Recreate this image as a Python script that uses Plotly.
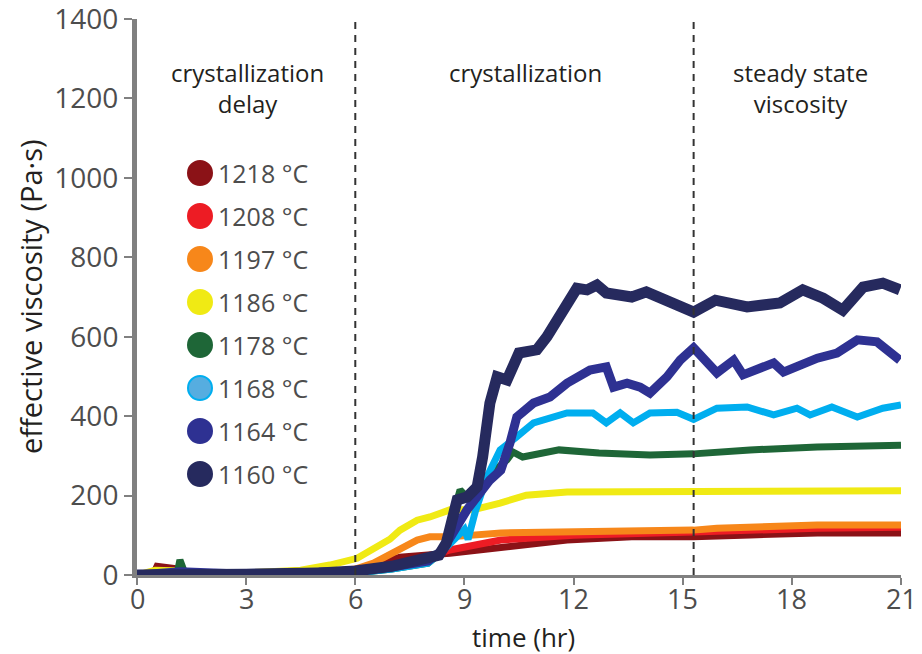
import plotly.graph_objects as go

# ---------------- data ----------------
labels = ["1218 °C", "1208 °C", "1197 °C", "1186 °C", "1178 °C", "1168 °C", "1164 °C", "1160 °C"]
colors = ["#8b1217", "#ed1c24", "#f7871a", "#f0ea14", "#1e6637", "#00aeef", "#2e3192", "#262a5e"]
legend_fill = ["#8b1217", "#ed1c24", "#f7871a", "#f0ea14", "#1e6637", "#56ade0", "#2e3192", "#262a5e"]
widths = [7, 7, 7, 7, 7, 7, 9, 11]

t_1218 = [0, 0.45, 0.55, 1.0, 1.15, 1.3, 3, 6, 6.5, 7.23, 8.6, 10.0, 11.82, 13.6, 15.3, 16.85, 18.7, 21.0]
v_1218 = [0, 2, 22, 20, 15, 2, 2, 12, 25, 45, 55, 70, 88, 96, 96, 101, 106, 106]

t_1208 = [0, 3, 6, 7, 8, 8.6, 10.0, 11.1, 12, 15.3, 18.7, 21.0]
v_1208 = [0, 2, 10, 25, 45, 63, 88, 96, 100, 108, 118, 120]

t_1197 = [0, 1.3, 3, 5, 6, 6.5, 7.3, 7.7, 8.05, 8.6, 10.0, 12.7, 15.3, 15.94, 18.7, 21.0]
v_1197 = [0, 0, 2, 5, 15, 30, 70, 88, 96, 96, 106, 108, 113, 118, 126, 126]

t_1186 = [0, 0.5, 1.2, 1.3, 3, 4.5, 5.3, 6.05, 6.95, 7.23, 7.7, 8.05, 8.6, 9.24, 9.98, 10.7, 11.82, 15.3, 21.0]
v_1186 = [0, 12, 10, 2, 5, 12, 25, 42, 90, 113, 138, 146, 164, 164, 181, 201, 209, 209, 212]

t_1178 = [0, 1.1, 1.18, 1.3, 3, 6, 7, 8, 8.4, 8.88, 9.07, 9.62, 10.17, 10.33, 10.6, 11.6, 12.7, 14.1, 15.3, 16.85, 18.7, 21.0]
v_1178 = [0, 2, 38, 8, 2, 5, 15, 30, 60, 214, 196, 247, 290, 310, 297, 315, 307, 302, 305, 315, 322, 327]

t_1168 = [0, 3, 6, 7, 8, 8.4, 8.8, 9.0, 9.1, 9.3, 9.62, 9.98, 10.44, 10.9, 11.82, 12.53, 12.9, 13.28, 13.64, 14.1, 14.84, 15.3, 15.94, 16.77, 17.5, 18.14, 18.5, 19.1, 19.8, 20.5, 21.0]
v_1168 = [0, 1, 5, 15, 30, 60, 100, 115, 90, 160, 247, 315, 348, 383, 408, 408, 383, 408, 383, 408, 410, 392, 420, 423, 403, 420, 403, 423, 398, 420, 428]

t_1164 = [0, 1.2, 3, 5, 6, 7, 8, 8.4, 9.07, 9.7, 10.0, 10.25, 10.44, 10.9, 11.35, 11.82, 12.45, 12.9, 13.1, 13.47, 13.83, 14.1, 14.57, 14.93, 15.2, 15.3, 15.94, 16.4, 16.66, 17.5, 17.77, 18.7, 19.24, 19.8, 20.34, 20.97]
v_1164 = [0, 8, 2, 5, 10, 20, 35, 63, 164, 239, 264, 332, 398, 433, 448, 483, 516, 524, 473, 483, 473, 458, 499, 541, 567, 572, 509, 541, 504, 534, 511, 546, 559, 592, 587, 541]

t_1160 = [0, 1.2, 3, 5, 6, 7, 7.8, 8.3, 8.5, 8.8, 9.07, 9.35, 9.5, 9.7, 9.9, 10.17, 10.5, 10.99, 11.27, 11.82, 12.09, 12.37, 12.64, 12.9, 13.6, 14.0, 14.57, 15.0, 15.3, 15.9, 16.77, 17.67, 18.3, 18.86, 19.4, 19.96, 20.5, 20.97]
v_1160 = [0, 3, 2, 5, 10, 22, 35, 50, 80, 189, 196, 222, 297, 433, 499, 491, 559, 567, 600, 685, 722, 718, 730, 710, 700, 713, 692, 672, 662, 692, 675, 685, 718, 697, 667, 725, 735, 718]

times = [t_1218, t_1208, t_1197, t_1186, t_1178, t_1168, t_1164, t_1160]
values = [v_1218, v_1208, v_1197, v_1186, v_1178, v_1168, v_1164, v_1160]

phase_bounds = [6, 15.3]
phase_labels = ["crystallization<br>delay", "crystallization", "steady state<br>viscosity"]
phase_centers = [0.145, 0.508, 0.868]

x_ticks = [0, 3, 6, 9, 12, 15, 18, 21]
y_ticks = [0, 200, 400, 600, 800, 1000, 1200, 1400]

FONT = "Open Sans, Noto Sans, sans-serif"

PLOT_H = 654 - 19 - 79

fig = go.Figure()
for t, v, c, w, name in zip(times, values, colors, widths, labels):
    fig.add_trace(go.Scatter(x=t, y=v, mode="lines", name=name,
                             line=dict(color=c, width=w), showlegend=False,
                             hoverinfo="skip"))

shapes = []
for xb in phase_bounds:
    shapes.append(dict(type="line", xref="x", yref="paper", x0=xb, x1=xb, y0=0, y1=1,
                       line=dict(color="#333333", width=2, dash="7px,6px")))

annotations = []
for cx, txt in zip(phase_centers, phase_labels):
    annotations.append(dict(x=cx, y=(575 - 54) / PLOT_H, xref="paper", yref="paper",
                            text=txt, showarrow=False, xanchor="center", yanchor="top",
                            font=dict(family=FONT, size=24, color="#231f20")))

# legend built from shapes + text
lx = (200 - 137) / 764
ly0 = (575 - 173) / PLOT_H
dy = 43 / PLOT_H
for i, (lab, fc, ec) in enumerate(zip(labels, legend_fill, colors)):
    yy = ly0 - i * dy
    shapes.append(dict(type="circle", xref="paper", yref="paper",
                       xsizemode="pixel", ysizemode="pixel",
                       xanchor=lx, yanchor=yy, x0=-12, x1=12, y0=-12, y1=12,
                       fillcolor=fc, line=dict(color=ec, width=2)))
    annotations.append(dict(x=lx, y=yy, xref="paper", yref="paper", text=lab,
                            xshift=16, showarrow=False, xanchor="left", yanchor="middle",
                            font=dict(family=FONT, size=25, color="#4d4d4d")))

# x tick labels placed below the axis
for xt in x_ticks:
    annotations.append(dict(x=xt, y=-(598 - 575) / PLOT_H, xref="x", yref="paper",
                            text=str(xt), showarrow=False, xanchor="center", yanchor="middle",
                            font=dict(family=FONT, size=27, color="#4d4d4d")))

annotations.append(dict(x=(30 - 137) / 764, y=0.5, xref="paper", yref="paper",
                        text="effective viscosity (Pa·s)", textangle=-90, showarrow=False,
                        xanchor="center", yanchor="middle",
                        font=dict(family=FONT, size=29, color="#231f20")))
annotations.append(dict(x=(523 - 137) / 764, y=-(637 - 575) / PLOT_H, xref="paper", yref="paper",
                        text="time (hr)", showarrow=False, xanchor="center", yanchor="middle",
                        font=dict(family=FONT, size=26, color="#231f20")))

fig.update_layout(
    width=922, height=654,
    margin=dict(l=137, r=21, t=19, b=79),
    plot_bgcolor="white", paper_bgcolor="white",
    shapes=shapes, annotations=annotations,
    xaxis=dict(range=[0, 21], tickvals=x_ticks, showticklabels=False,
               automargin=False,
               showgrid=False, zeroline=False, showline=True, linecolor="#808080", linewidth=3,
               ticks="outside", ticklen=7, tickwidth=2, tickcolor="#808080"),
    yaxis=dict(range=[0, 1400], tickvals=y_ticks, ticktext=[str(y) for y in y_ticks],
               automargin=False, ticklabeloverflow="allow",
               showgrid=False, zeroline=False, showline=True, linecolor="#808080", linewidth=5,
               ticks="outside", ticklen=8, tickwidth=2, tickcolor="#808080",
               tickfont=dict(family=FONT, size=28, color="#4d4d4d")),
)

fig.write_html("out.html")
